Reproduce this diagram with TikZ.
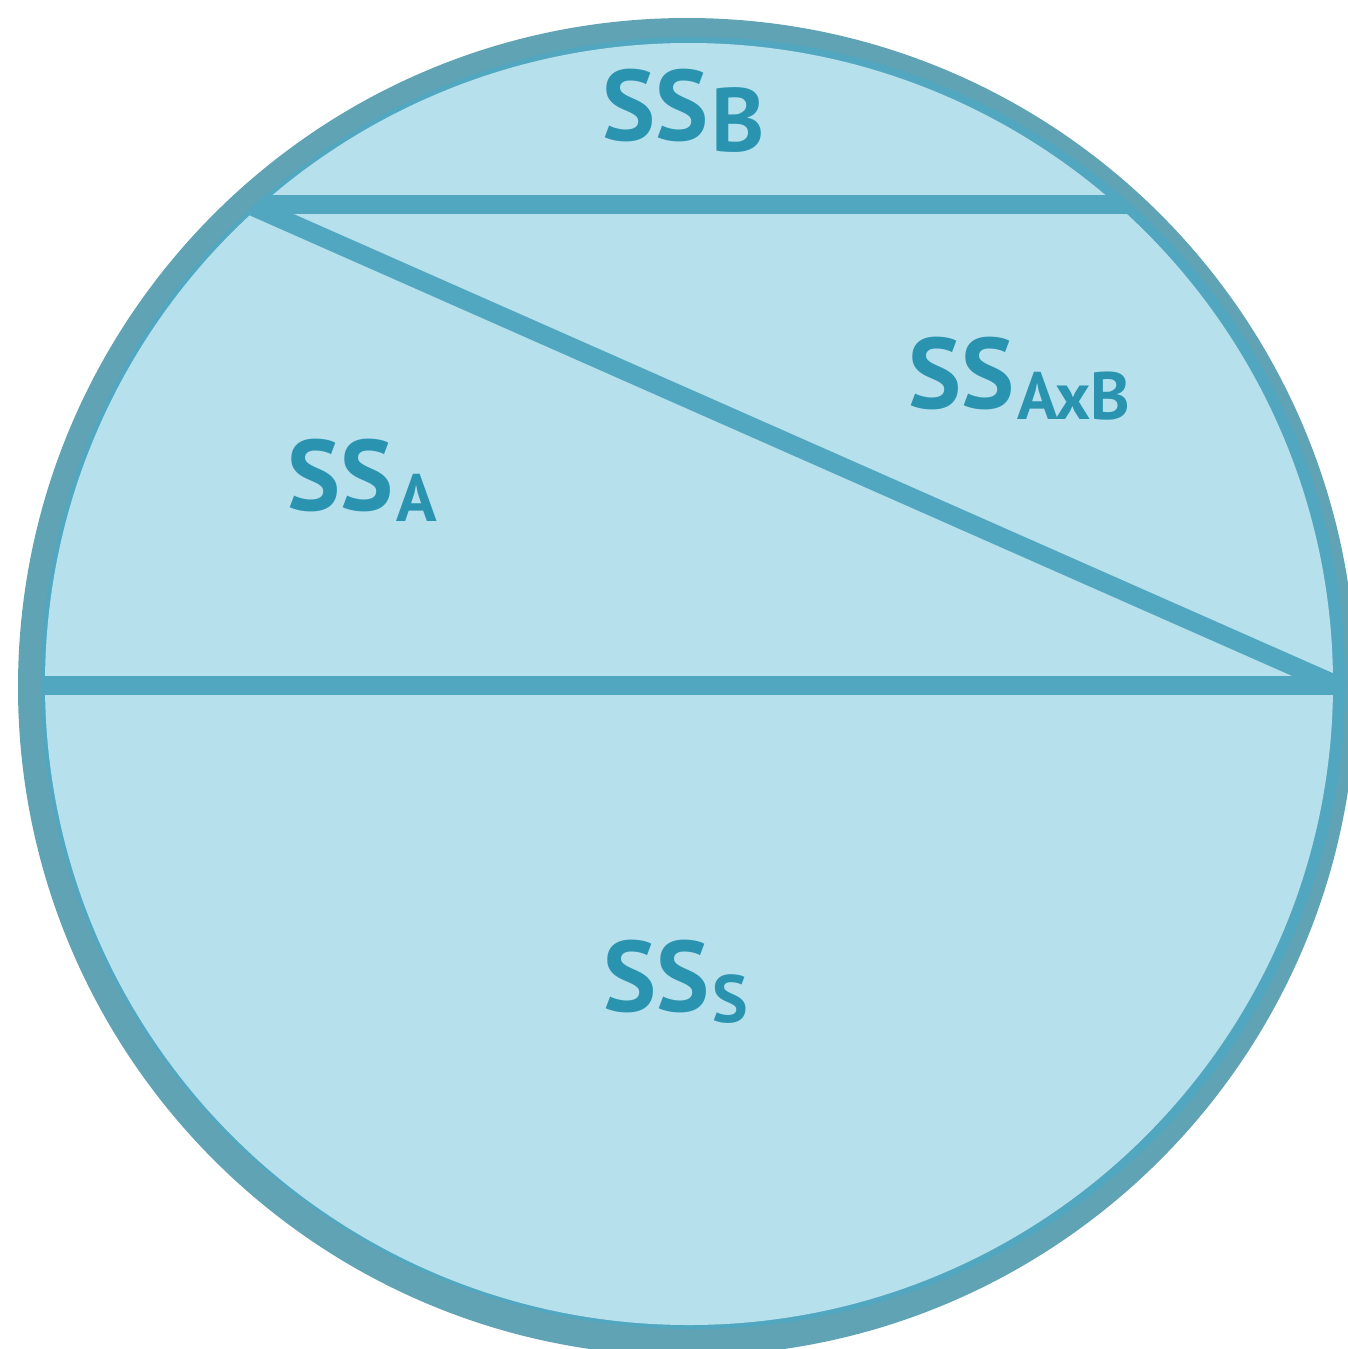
\documentclass[tikz,border=0pt]{standalone}
\usepackage{fontspec}
\setmainfont{PT Sans}
\definecolor{ringdark}{HTML}{5FA3B5}
\definecolor{ringlight}{HTML}{52A7C0}
\definecolor{areafill}{HTML}{B5E0EC}
\definecolor{labeltext}{HTML}{2A93B0}
\newcommand{\sumsq}[2][67]{SS\kern3pt\raisebox{-11pt}{\fontsize{#1}{#1}\selectfont #2}}

\begin{document}
\begin{tikzpicture}[
    x=1pt, y=-1pt,
    divider/.style={draw=ringlight, line width=19pt},
    lbl/.style={font=\fontsize{100}{100}\selectfont\bfseries, text=labeltext,
                anchor=base, inner sep=0pt}
]
\useasboundingbox (0,0) rectangle (1347,1349);

% circle: dark rim, light rim, pale area
\fill[ringdark] (687,687) circle[radius=669];
\fill[ringlight] (693,683) ellipse[x radius=652, y radius=646];
\fill[areafill] (689,684) ellipse[x radius=644, y radius=641];

\coordinate (topL) at (150,204);
\coordinate (topR) at (1250,204);
\coordinate (midL) at (0,685.5);
\coordinate (midR) at (1347,685.5);
\coordinate (diagL) at (230,196.3);
\coordinate (diagR) at (1347,689.8);

% partitions
\begin{scope}
\clip (693,683) ellipse[x radius=652, y radius=646];
\draw[divider] (topL) -- (topR);
\draw[divider] (midL) -- (midR);
\draw[divider] (diagL) -- (diagR);
\end{scope}

\node[lbl] (ssB) at (684,140) {\sumsq[90]{B}};
\node[lbl] (ssAxB) at (1019,408) {\sumsq{AxB}};
\node[lbl] (ssA) at (362,510) {\sumsq{A}};
\node[lbl] (ssS) at (676,1011) {\sumsq{S}};

\end{tikzpicture}
\end{document}
